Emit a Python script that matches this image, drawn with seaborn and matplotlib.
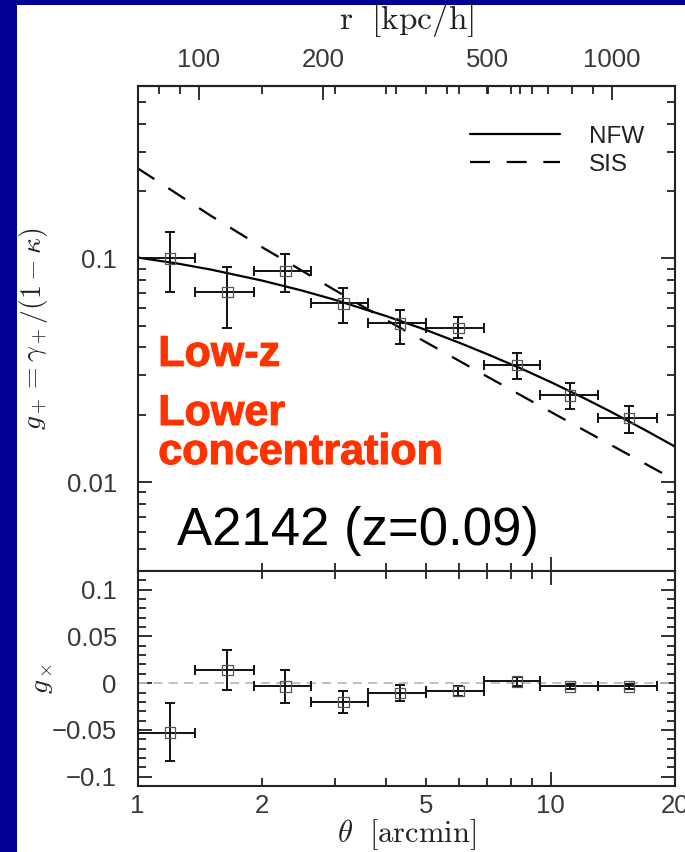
import numpy as np
import pandas as pd
import matplotlib
matplotlib.use("Agg")
import matplotlib.pyplot as plt
import seaborn as sns
import matplotlib.patheffects as pe
from matplotlib.ticker import FixedLocator, FixedFormatter, NullFormatter, FuncFormatter
from matplotlib.patches import Rectangle

sns.set_style("ticks")
plt.rcParams["font.family"] = ["Liberation Sans", "DejaVu Sans"]
plt.rcParams["mathtext.fontset"] = "cm"

# ---- data ----
# radial bins (arcmin): centre, lower and upper bin edge
theta = [1.20, 1.65, 2.28, 3.15, 4.32, 5.98, 8.28, 11.15, 15.5]
theta_lo = [1.00, 1.38, 1.91, 2.63, 3.62, 5.00, 6.90, 9.44, 13.0]
theta_hi = [1.38, 1.91, 2.63, 3.62, 5.00, 6.90, 9.44, 13.0, 18.1]

# tangential shear g+ with error range
g_plus = [0.100, 0.0709, 0.0877, 0.0629, 0.0512, 0.0487, 0.0333, 0.0244, 0.0193]
g_plus_hi = [0.1316, 0.0917, 0.105, 0.0738, 0.0587, 0.0548, 0.0376, 0.0276, 0.0218]
g_plus_lo = [0.0709, 0.049, 0.0709, 0.0512, 0.0416, 0.0439, 0.029, 0.0213, 0.0166]

# cross shear gx with error range
g_cross = [-0.0529, 0.0143, -0.0035, -0.0203, -0.0103, -0.0085, 0.0018, -0.0035, -0.0035]
g_cross_hi = [-0.0213, 0.0356, 0.0146, -0.0085, -0.0018, -0.0025, 0.0064, -0.0007, -0.0007]
g_cross_lo = [-0.0832, -0.0070, -0.0213, -0.0320, -0.0192, -0.0142, -0.0032, -0.0060, -0.0060]

# model curves
nfw_theta = [1, 1.25, 1.5, 2, 2.5, 3, 4, 5, 6, 7, 8.5, 10, 12, 14, 17, 20]
nfw_g = [0.1009, 0.0948, 0.0892, 0.0796, 0.0718, 0.0653, 0.0552, 0.0478, 0.0420,
         0.0374, 0.0321, 0.0280, 0.0238, 0.0206, 0.0170, 0.0144]
sis_theta = [1, 1.5, 2, 3, 4, 5, 7, 10, 14, 20]
sis_g = [0.253, 0.1556, 0.1123, 0.0722, 0.0530, 0.0421, 0.0297, 0.0206, 0.01464, 0.0102]

R_PER_ARCMIN = 71.1  # kpc/h per arcmin for the top axis

TICK_COLOR = "#383838"
BLUE = "#000096"
RED = "#ff3300"

df_nfw = pd.DataFrame({"theta": nfw_theta, "g": nfw_g})
df_sis = pd.DataFrame({"theta": sis_theta, "g": sis_g})
xerr = [np.array(theta) - np.array(theta_lo), np.array(theta_hi) - np.array(theta)]

fig = plt.figure(figsize=(6.85, 8.52), dpi=100)
fig.patch.set_facecolor(BLUE)
fig.patches.append(Rectangle((17 / 685, 0), 1, 1 - 5 / 852, transform=fig.transFigure,
                             facecolor="white", edgecolor="none", zorder=-10))

x0, x1 = 137.6 / 685, 675.0 / 685
ax1 = fig.add_axes([x0, 1 - 571 / 852, x1 - x0, (571 - 86) / 852])
ax2 = fig.add_axes([x0, 1 - 786 / 852, x1 - x0, (786 - 571) / 852])

# ---------- upper panel ----------
ax1.set_xscale("log")
ax1.set_yscale("log")
sns.lineplot(data=df_nfw, x="theta", y="g", ax=ax1, color="black", lw=1.6, label="NFW")
sns.lineplot(data=df_sis, x="theta", y="g", ax=ax1, color="black", lw=1.6, label="SIS")
ax1.lines[-1].set_dashes([9, 7.5])

ax1.errorbar(theta, g_plus, xerr=xerr,
             yerr=[np.array(g_plus) - np.array(g_plus_lo), np.array(g_plus_hi) - np.array(g_plus)],
             fmt="none", ecolor="#111111", elinewidth=1.4, capsize=3.8, capthick=1.4, zorder=3)
sns.scatterplot(x=theta, y=g_plus, ax=ax1, marker="s", s=55, zorder=4)
sq = ax1.collections[-1]
sq.set_facecolor("none")
sq.set_edgecolor("#555555")
sq.set_linewidth(0.9)

ax1.set_xlim(1, 20)
ax1.set_ylim(0.004, 0.59)

leg = ax1.legend(loc="upper left", bbox_to_anchor=(0.6185, 0.918), frameon=False,
                 fontsize=17.5, handlelength=3.7, handletextpad=1.2, labelspacing=0.25,
                 borderpad=0, borderaxespad=0)
for t in leg.get_texts():
    t.set_color("#222222")

heavy = [pe.withStroke(linewidth=0.8, foreground=RED)]
ax1.text(0.0384, 0.423, "Low-z", transform=ax1.transAxes, color=RED,
         fontsize=31, fontweight="bold", va="baseline", path_effects=heavy)
ax1.text(0.0384, 0.2206, "Lower\nconcentration", transform=ax1.transAxes, color=RED,
         fontsize=31, fontweight="bold", va="baseline", linespacing=0.97, path_effects=heavy)
ax1.text(0.0733, 0.0536, "A2142 (z=0.09)", transform=ax1.transAxes, color="black",
         fontsize=38, va="baseline")

ax1.xaxis.set_major_locator(FixedLocator([1, 10]))
ax1.xaxis.set_minor_locator(FixedLocator([2, 3, 4, 5, 6, 7, 8, 9, 20]))
ax1.xaxis.set_major_formatter(NullFormatter())
ax1.xaxis.set_minor_formatter(NullFormatter())
ax1.yaxis.set_major_locator(FixedLocator([0.01, 0.1]))
ax1.yaxis.set_major_formatter(FixedFormatter(["0.01", "0.1"]))
ax1.yaxis.set_minor_locator(FixedLocator([m * 10.0 ** e for e in (-3, -2, -1) for m in range(2, 10)]))
ax1.yaxis.set_minor_formatter(NullFormatter())
ax1.set_ylabel(r"$g_+ = \gamma_+/(1-\kappa)$", fontsize=20, color="#222222")
ax1.yaxis.set_label_coords(-0.163, 0.5)
ax1.set_xlabel("")

secax = ax1.secondary_xaxis("top", functions=(lambda t: t * R_PER_ARCMIN,
                                              lambda r: r / R_PER_ARCMIN))
secax.xaxis.set_major_locator(FixedLocator([100, 200, 1000]))
secax.xaxis.set_major_formatter(FixedFormatter(["100", "200", "1000"]))
secax.xaxis.set_minor_locator(FixedLocator([80, 90, 300, 400, 500, 600, 700, 800, 900]))
secax.xaxis.set_minor_formatter(FuncFormatter(lambda v, p: "500" if abs(v - 500) < 1 else ""))
secax.tick_params(which="both", direction="in", labelsize=18.5, labelcolor=TICK_COLOR,
                  color="#222222", width=1.3, pad=10)
secax.tick_params(which="major", length=10)
secax.tick_params(which="minor", length=5.5)
secax.set_xlabel(r"$\mathrm{r\ \ [kpc/h]}$", fontsize=24, color="#222222", labelpad=14)

# ---------- lower panel ----------
ax2.set_xscale("log")
ax2.axhline(0, color="#bbbbbb", lw=1.3, ls=(0, (5, 3.5)), zorder=1)
ax2.errorbar(theta, g_cross, xerr=xerr,
             yerr=[np.array(g_cross) - np.array(g_cross_lo), np.array(g_cross_hi) - np.array(g_cross)],
             fmt="none", ecolor="#111111", elinewidth=1.4, capsize=3.8, capthick=1.4, zorder=3)
sns.scatterplot(x=theta, y=g_cross, ax=ax2, marker="s", s=55, zorder=4)
sq2 = ax2.collections[-1]
sq2.set_facecolor("none")
sq2.set_edgecolor("#555555")
sq2.set_linewidth(0.9)

ax2.set_xlim(1, 20)
ax2.set_ylim(-0.11, 0.12)
ax2.xaxis.set_major_locator(FixedLocator([1, 10]))
ax2.xaxis.set_major_formatter(FixedFormatter(["1", "10"]))
ax2.xaxis.set_minor_locator(FixedLocator([2, 3, 4, 5, 6, 7, 8, 9, 20]))
ax2.xaxis.set_minor_formatter(FuncFormatter(lambda v, p: f"{v:g}" if v in (2, 5, 20) else ""))
ax2.yaxis.set_major_locator(FixedLocator([-0.1, -0.05, 0, 0.05, 0.1]))
ax2.yaxis.set_major_formatter(FixedFormatter(["\u22120.1", "\u22120.05", "0", "0.05", "0.1"]))
ax2.yaxis.set_minor_locator(FixedLocator([i / 100 for i in range(-11, 13)]))
ax2.set_ylabel(r"$g_\times$", fontsize=20, color="#222222")
ax2.yaxis.set_label_coords(-0.154, 0.5)
ax2.set_xlabel(r"$\theta\ \ [\mathrm{arcmin}]$", fontsize=22, color="#222222", labelpad=-1)

for ax in (ax1, ax2):
    ax.tick_params(which="both", direction="in", top=True, right=True, bottom=True, left=True,
                   labelsize=18.5, labelcolor=TICK_COLOR, color="#222222", width=1.3)
    ax.tick_params(which="major", length=10)
    ax.tick_params(which="minor", length=5.5)
    ax.tick_params(axis="y", which="both", pad=15)
    ax.tick_params(axis="x", which="both", pad=6)
    for s in ax.spines.values():
        s.set_linewidth(1.5)
        s.set_color("#222222")
ax1.tick_params(top=False, labelbottom=False)
for s in secax.spines.values():
    s.set_linewidth(1.5)
    s.set_color("#222222")

fig.savefig("out.png", dpi=100, facecolor=fig.get_facecolor())
